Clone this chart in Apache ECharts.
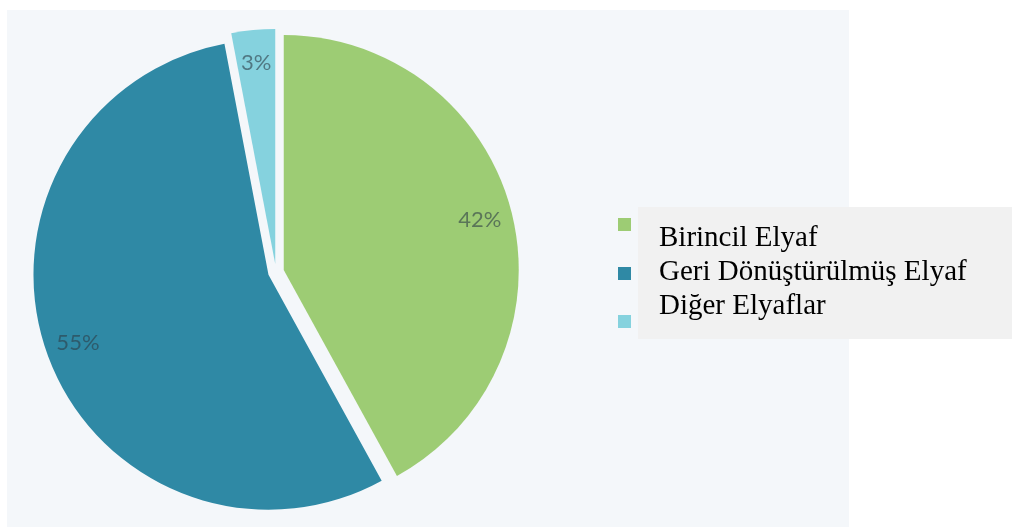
<!DOCTYPE html>
<html lang="tr">
<head>
    <meta charset="UTF-8">
    <title>Elyaf Dağılımı</title>
    <style>
        body{margin:0;background:#fff;}
    </style>
</head>
<body>
<div id="chart1" style="width: 1012px;height:527px;"></div>
<script src="https://cdn.jsdelivr.net/npm/echarts@6/dist/echarts.min.js"></script>
<script>
    var names = ['Birincil Elyaf','Geri Dönüştürülmüş Elyaf','Diğer Elyaflar'];
    var values = [42,55,3];
    var colors = ['#9dcc74','#2f89a5','#85d2de'];
    var markerTops = [218,267,315];

    function $each(arr, fn){
        for(var i=0;i<arr.length;i++){ fn(i, arr[i]); }
    }
    var pieData = [];
    var labelData = [];
    $each(names, function(i,item){
        pieData.push({name:item, value:values[i], selected:true, itemStyle:{color:colors[i]}});
        labelData.push({name:item, value:values[i], selected:true});
    });

    // one legend per marker, the markers in the picture are not evenly spaced
    var legends = [];
    $each(names, function(i,item){
        legends.push({
            data:[item],
            left:618,
            top:markerTops[i],
            padding:0,
            icon:'rect',
            itemWidth:13,
            itemHeight:13,
            selectedMode:false,
            formatter:function(){ return ''; }
        });
    });

    var chart1 = echarts.init(document.getElementById('chart1'));
    var option = {
        animation:false,
        graphic:[
            {type:'rect', z:-10, shape:{x:7,y:10,width:842,height:517}, style:{fill:'#f4f7fa'}},
            {type:'rect', z:10, shape:{x:638,y:207,width:374,height:132}, style:{fill:'#f1f1f1'}},
            {type:'text', z:11, x:659, y:221, style:{
                text:names.join('\n'),
                fill:'#000',
                font:'29px "Liberation Serif"',
                lineHeight:34,
                verticalAlign:'top'
            }}
        ],
        legend:legends,
        series:[
            {
                name:'pie',
                type:'pie',
                center:[276,272],
                radius:235,
                startAngle:90,
                selectedMode:'multiple',
                selectedOffset:8,
                emphasis:{disabled:true},
                select:{itemStyle:{borderWidth:0}},
                label:{show:false},
                labelLine:{show:false},
                data:pieData
            },
            {
                // transparent ring, only used to put the labels further out
                name:'labels',
                type:'pie',
                center:[276,272],
                radius:[164,235],
                startAngle:90,
                selectedMode:'multiple',
                selectedOffset:8,
                emphasis:{disabled:true},
                select:{itemStyle:{borderWidth:0}},
                itemStyle:{color:'rgba(0,0,0,0)'},
                label:{
                    show:true,
                    position:'inner',
                    formatter:'{c}%',
                    fontFamily:'Lato',
                    fontSize:22,
                    color:'rgba(45,60,70,0.6)'
                },
                labelLine:{show:false},
                data:labelData
            }
        ]
    };
    chart1.setOption(option);
</script>
</body>
</html>
